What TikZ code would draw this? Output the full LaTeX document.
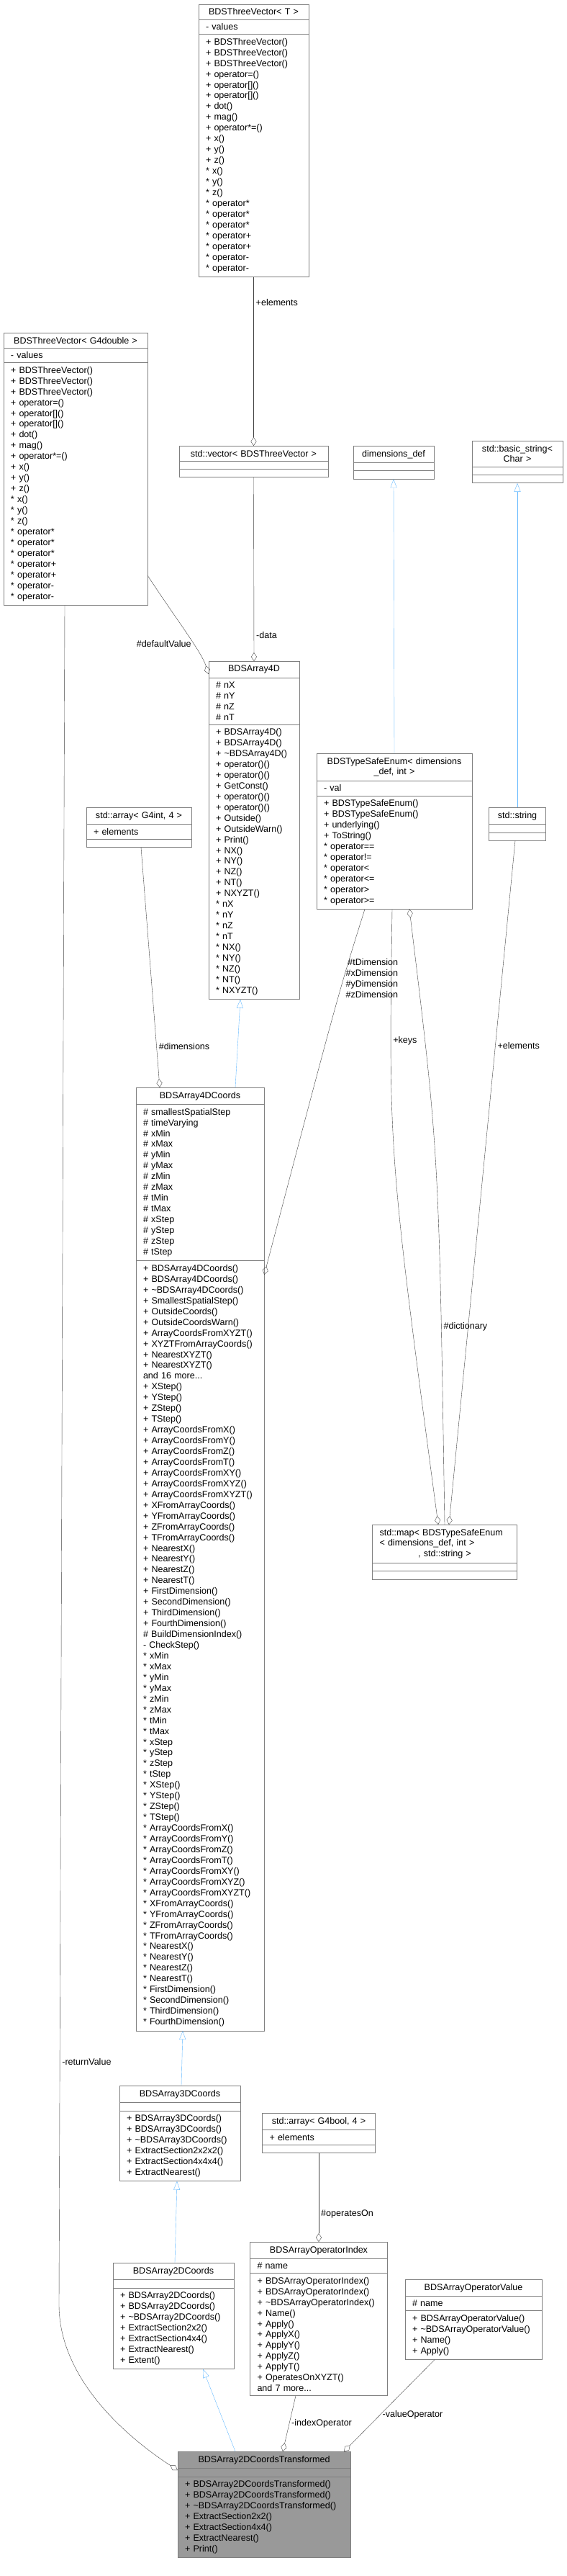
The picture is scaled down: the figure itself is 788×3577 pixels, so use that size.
\documentclass[tikz,border=0pt]{standalone}
\usepackage{fontspec}
\setmainfont{Liberation Sans}
\usetikzlibrary{shapes.multipart,arrows.meta,calc}
\definecolor{edgegray}{HTML}{404040}
\definecolor{boxgray}{HTML}{7F7F7F}
\definecolor{inhblue}{HTML}{63B8FF}
\definecolor{curfill}{HTML}{999999}
\newcommand{\ctitle}[1]{\makebox[\linewidth]{#1}}
\tikzset{
  cls/.style={rectangle split, rectangle split parts=3, draw=boxgray, fill=white, anchor=north,
    font=\fontsize{12.6}{15}\selectfont, inner xsep=10bp, inner ysep=5.5bp,
    rectangle split empty part height=10bp, align=left},
  agg/.style={draw=edgegray, -{Diamond[open,length=12bp,width=8bp]}},
  inh/.style={draw=inhblue, -{Triangle[open,length=12bp,width=9bp]}},
  lbl/.style={font=\fontsize{12.6}{15}\selectfont, inner sep=3bp}
}
\begin{document}
\begin{tikzpicture}[x=1bp, y=-1bp]
  \useasboundingbox (0,0) rectangle (788,3577);
  % the template vector and its G4double instance
  \node[cls, text width=133bp] (tvT) at (352.5,6) {\ctitle{BDSThreeVector< T >}
    \nodepart{two}- values
    \nodepart{three}+ BDSThreeVector()\\+ BDSThreeVector()\\+ BDSThreeVector()\\+ operator=()\\+ operator[]()\\+ operator[]()\\+ dot()\\+ mag()\\+ operator*=()\\+ x()\\+ y()\\+ z()\\{}* x()\\{}* y()\\{}* z()\\{}* operator*\\{}* operator*\\{}* operator*\\{}* operator+\\{}* operator+\\{}* operator-\\{}* operator-};
  \node[cls, text width=180bp] (tvD) at (105,462) {\ctitle{BDSThreeVector< G4double >}
    \nodepart{two}- values
    \nodepart{three}+ BDSThreeVector()\\+ BDSThreeVector()\\+ BDSThreeVector()\\+ operator=()\\+ operator[]()\\+ operator[]()\\+ dot()\\+ mag()\\+ operator*=()\\+ x()\\+ y()\\+ z()\\{}* x()\\{}* y()\\{}* z()\\{}* operator*\\{}* operator*\\{}* operator*\\{}* operator+\\{}* operator+\\{}* operator-\\{}* operator-};
  \node[cls, text width=187bp] (vec) at (352.5,619) {\ctitle{std::vector< BDSThreeVector >}\nodepart{two}\nodepart{three}};
  \node[cls, text width=92bp] (dimdef) at (547,619) {\ctitle{dimensions\_def}\nodepart{two}\nodepart{three}};
  \node[cls, text width=106bp] (bstr) at (719,612) {\ctitle{std::basic\_string<}\\\ctitle{Char >}\nodepart{two}\nodepart{three}};

  % the 4D array and the type safe enum
  \node[cls, text width=106bp] (arr4) at (353,918) {\ctitle{BDSArray4D}
    \nodepart{two}\# nX\\\# nY\\\# nZ\\\# nT
    \nodepart{three}+ BDSArray4D()\\+ BDSArray4D()\\+ \textasciitilde BDSArray4D()\\+ operator()()\\+ operator()()\\+ GetConst()\\+ operator()()\\+ operator()()\\+ Outside()\\+ OutsideWarn()\\+ Print()\\+ NX()\\+ NY()\\+ NZ()\\+ NT()\\+ NXYZT()\\{}* nX\\{}* nY\\{}* nZ\\{}* nT\\{}* NX()\\{}* NY()\\{}* NZ()\\{}* NT()\\{}* NXYZT()};
  \node[cls, text width=196bp] (tse) at (548,1046) {\ctitle{BDSTypeSafeEnum< dimensions}\\\ctitle{\_def, int >}
    \nodepart{two}- val
    \nodepart{three}+ BDSTypeSafeEnum()\\+ BDSTypeSafeEnum()\\+ underlying()\\+ ToString()\\{}* operator==\\{}* operator!=\\{}* operator<\\{}* operator<=\\{}* operator>\\{}* operator>=};
  \node[cls, text width=126bp] (arrint) at (193,1121) {\ctitle{std::array< G4int, 4 >}\nodepart{two}+ elements\nodepart{three}};
  \node[cls, text width=59bp] (str) at (719,1121) {\ctitle{std::string}\nodepart{two}\nodepart{three}};

  % the coordinate classes
  \node[cls, text width=158bp] (arr4c) at (278,1510) {\ctitle{BDSArray4DCoords}
    \nodepart{two}\# smallestSpatialStep\\\# timeVarying\\\# xMin\\\# xMax\\\# yMin\\\# yMax\\\# zMin\\\# zMax\\\# tMin\\\# tMax\\\# xStep\\\# yStep\\\# zStep\\\# tStep
    \nodepart{three}+ BDSArray4DCoords()\\+ BDSArray4DCoords()\\+ \textasciitilde BDSArray4DCoords()\\+ SmallestSpatialStep()\\+ OutsideCoords()\\+ OutsideCoordsWarn()\\+ ArrayCoordsFromXYZT()\\+ XYZTFromArrayCoords()\\+ NearestXYZT()\\+ NearestXYZT()\\and 16 more...\\+ XStep()\\+ YStep()\\+ ZStep()\\+ TStep()\\+ ArrayCoordsFromX()\\+ ArrayCoordsFromY()\\+ ArrayCoordsFromZ()\\+ ArrayCoordsFromT()\\+ ArrayCoordsFromXY()\\+ ArrayCoordsFromXYZ()\\+ ArrayCoordsFromXYZT()\\+ XFromArrayCoords()\\+ YFromArrayCoords()\\+ ZFromArrayCoords()\\+ TFromArrayCoords()\\+ NearestX()\\+ NearestY()\\+ NearestZ()\\+ NearestT()\\+ FirstDimension()\\+ SecondDimension()\\+ ThirdDimension()\\+ FourthDimension()\\\# BuildDimensionIndex()\\- CheckStep()\\{}* xMin\\{}* xMax\\{}* yMin\\{}* yMax\\{}* zMin\\{}* zMax\\{}* tMin\\{}* tMax\\{}* xStep\\{}* yStep\\{}* zStep\\{}* tStep\\{}* XStep()\\{}* YStep()\\{}* ZStep()\\{}* TStep()\\{}* ArrayCoordsFromX()\\{}* ArrayCoordsFromY()\\{}* ArrayCoordsFromZ()\\{}* ArrayCoordsFromT()\\{}* ArrayCoordsFromXY()\\{}* ArrayCoordsFromXYZ()\\{}* ArrayCoordsFromXYZT()\\{}* XFromArrayCoords()\\{}* YFromArrayCoords()\\{}* ZFromArrayCoords()\\{}* TFromArrayCoords()\\{}* NearestX()\\{}* NearestY()\\{}* NearestZ()\\{}* NearestT()\\{}* FirstDimension()\\{}* SecondDimension()\\{}* ThirdDimension()\\{}* FourthDimension()};
  \node[cls, text width=181bp] (dmap) at (618,2117) {std::map< BDSTypeSafeEnum\\< dimensions\_def, int >\\\ctitle{, std::string >}\nodepart{two}\nodepart{three}};
  \node[cls, text width=148bp] (arr3c) at (250,2896) {\ctitle{BDSArray3DCoords}
    \nodepart{two}
    \nodepart{three}+ BDSArray3DCoords()\\+ BDSArray3DCoords()\\+ \textasciitilde BDSArray3DCoords()\\+ ExtractSection2x2x2()\\+ ExtractSection4x4x4()\\+ ExtractNearest()};
  \node[cls, text width=137bp] (arrbool) at (443,2934) {\ctitle{std::array< G4bool, 4 >}\nodepart{two}+ elements\nodepart{three}};
  \node[cls, text width=148bp] (arr2c) at (241,3142) {\ctitle{BDSArray2DCoords}
    \nodepart{two}
    \nodepart{three}+ BDSArray2DCoords()\\+ BDSArray2DCoords()\\+ \textasciitilde BDSArray2DCoords()\\+ ExtractSection2x2()\\+ ExtractSection4x4()\\+ ExtractNearest()\\+ Extent()};
  \node[cls, text width=171bp] (opidx) at (443,3113) {\ctitle{BDSArrayOperatorIndex}
    \nodepart{two}\# name
    \nodepart{three}+ BDSArrayOperatorIndex()\\+ BDSArrayOperatorIndex()\\+ \textasciitilde BDSArrayOperatorIndex()\\+ Name()\\+ Apply()\\+ ApplyX()\\+ ApplyY()\\+ ApplyZ()\\+ ApplyT()\\+ OperatesOnXYZT()\\and 7 more...};
  \node[cls, text width=170bp] (opval) at (658,3165) {\ctitle{BDSArrayOperatorValue}
    \nodepart{two}\# name
    \nodepart{three}+ BDSArrayOperatorValue()\\+ \textasciitilde BDSArrayOperatorValue()\\+ Name()\\+ Apply()};
  \node[cls, fill=curfill, text width=220bp] (trans) at (367,3404) {\ctitle{BDSArray2DCoordsTransformed}
    \nodepart{two}
    \nodepart{three}+ BDSArray2DCoordsTransformed()\\+ BDSArray2DCoordsTransformed()\\+ \textasciitilde BDSArray2DCoordsTransformed()\\+ ExtractSection2x2()\\+ ExtractSection4x4()\\+ ExtractNearest()\\+ Print()};

  % inheritance
  \draw[inh] (tse.north) -- (dimdef.south);
  \draw[inh] (str.north) -- (bstr.south);
  \draw[inh] ([xshift=49bp]arr4c.north) -- ([xshift=-19bp]arr4.south);
  \draw[inh] ([xshift=2bp]arr3c.north) -- ([xshift=-24bp]arr4c.south);
  \draw[inh] ([xshift=2bp]arr2c.north) -- ([xshift=-4bp]arr3c.south);
  \draw[inh] ([xshift=-40bp]trans.north) -- ([xshift=41bp]arr2c.south);

  % members
  \draw[agg] (tvT.south) -- (vec.north) node[lbl, pos=0.15, right] {+elements};
  \draw[agg] (vec.south) -- (arr4.north) node[lbl, pos=0.86, right] {-data};
  \draw[agg] ([yshift=-148bp]tvD.east) .. controls (245,860) and (280,905) .. ([yshift=-18bp]arr4.north west) node[lbl, pos=0.62, left] {\#defaultValue};
  \draw[agg] ([xshift=-15bp]tvD.south) -- (82,3200) node[lbl, pos=0.857, right] {-returnValue} .. controls (82,3300) and (170,3380) .. ([yshift=-26bp]trans.north west);
  \draw[agg] ([xshift=3bp]arrint.south) -- ([xshift=-56bp]arr4c.north) node[lbl, pos=0.83, right] {\#dimensions};
  \draw[agg] ([xshift=-41bp]tse.south) .. controls (470,1380) .. ([yshift=-260bp]arr4c.north east) node[lbl, pos=0.33, right, align=right] {\#tDimension\\\#xDimension\\\#yDimension\\\#zDimension};
  \draw[agg] ([xshift=-3bp]tse.south) .. controls (540,1600) .. ([xshift=-9bp]dmap.north) node[lbl, pos=0.22, right] {+keys};
  \draw[agg] (dmap.north) .. controls (610,1600) .. ([xshift=21bp]tse.south) node[lbl, pos=0.22, right] {\#dictionary};
  \draw[agg] ([xshift=-3bp]str.south) -- ([xshift=6bp]dmap.north) node[lbl, pos=0.3, right] {+elements};
  \draw[agg] (arrbool.south) -- (opidx.north) node[lbl, pos=0.69, right] {\#operatesOn};
  \draw[agg] ([xshift=-32bp]opidx.south) -- ([xshift=26bp]trans.north) node[lbl, pos=0.5, right] {-indexOperator};
  \draw[agg] ([xshift=-54bp]opval.south) -- ([xshift=111bp]trans.north) node[lbl, pos=0.6, right] {-valueOperator};
\end{tikzpicture}
\end{document}
